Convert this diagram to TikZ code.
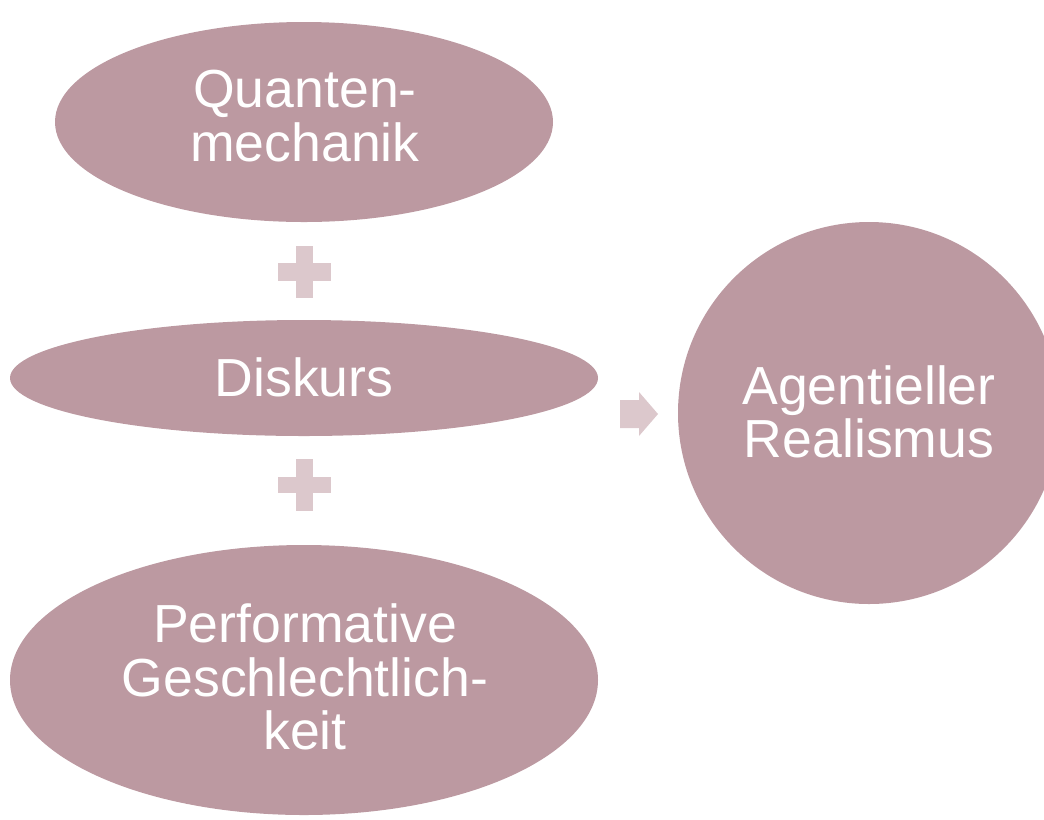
\documentclass[tikz,border=0pt]{standalone}
\usepackage{fontspec}
\setmainfont{Liberation Sans}
\definecolor{shapefill}{HTML}{BC99A1}
\definecolor{lightfill}{HTML}{DCC8CC}
\begin{document}
\begin{tikzpicture}[x=0.02cm,y=-0.02cm,
  blob/.style={fill=shapefill,draw=none},
  lbl/.style={text=white,align=center,font=\fontsize{30.5}{30.4}\selectfont,inner sep=0pt},
  sym/.style={fill=lightfill,draw=none}]
\useasboundingbox (0,0) rectangle (1044,819);
\clip (0,0) rectangle (1044,819);
% ellipses
\fill[blob] (304,122) ellipse [x radius=249,y radius=100];
\node[lbl] (q) at (305,116) {Quanten-\\mechanik};
\fill[blob] (304,378) ellipse [x radius=294,y radius=58];
\node[lbl] (d) at (304,377) {Diskurs};
\fill[blob] (304,680) ellipse [x radius=294,y radius=135];
\node[lbl] (p) at (305,677) {Performative\\Geschlechtlich-\\keit};
\fill[blob] (869,413) circle [radius=191];
\node[lbl] (a) at (869,412) {Agentieller\\Realismus};
% plus signs
\fill[sym] (296,246) rectangle (313,298);
\fill[sym] (278,263) rectangle (331,281);
\fill[sym] (296,459) rectangle (313,511);
\fill[sym] (278,477) rectangle (331,493);
% arrow
\fill[sym] (620,400) -- (639,400) -- (639,392) -- (658,414) -- (639,436) -- (639,428) -- (620,428) -- cycle;
\end{tikzpicture}
\end{document}
